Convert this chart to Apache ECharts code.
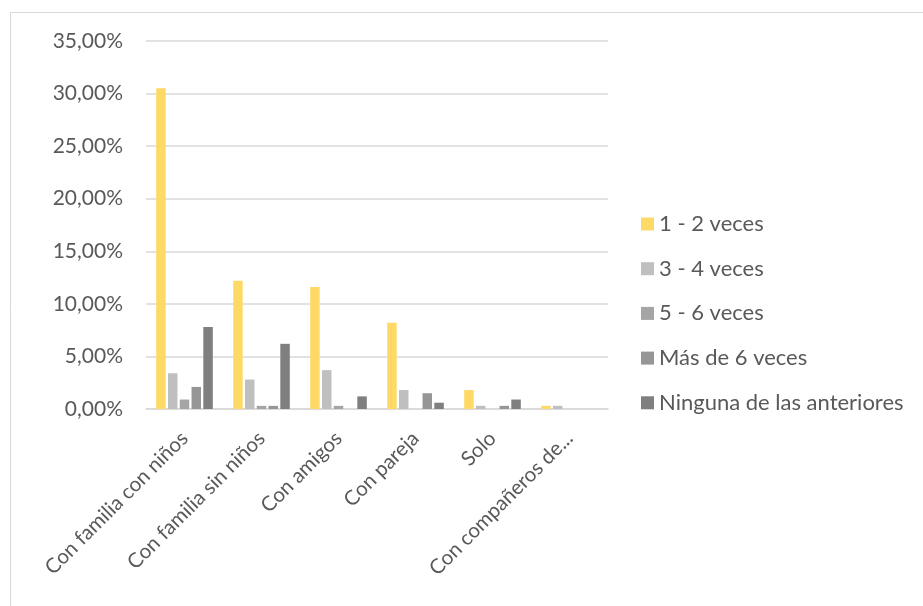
<!DOCTYPE html>
<html>
<head>
<meta charset="utf-8">
<script src="https://cdn.jsdelivr.net/npm/echarts@6/dist/echarts.min.js"></script>
<style>
  html, body { margin: 0; padding: 0; background: #fff; }
  #chart { width: 923px; height: 606px; }
</style>
</head>
<body>
<div id="chart"></div>
<script>
// Categories (company) and the share of respondents per frequency, in percent
const categories = ['Con familia con niños', 'Con familia sin niños', 'Con amigos', 'Con pareja', 'Solo', 'Con compañeros de...'];
const seriesNames = ['1 - 2 veces', '3 - 4 veces', '5 - 6 veces', 'Más de 6 veces', 'Ninguna de las anteriores'];
const veces1a2   = [30.5, 12.2, 11.6, 8.2, 1.8, 0.3];
const veces3a4   = [3.4, 2.8, 3.7, 1.8, 0.3, 0.3];
const veces5a6   = [0.9, 0.3, 0.3, 0, 0, 0];
const masDe6     = [2.1, 0.3, 0, 1.5, 0.3, 0];
const ninguna    = [7.8, 6.2, 1.2, 0.6, 0.9, 0];
const yTicks = [0, 5, 10, 15, 20, 25, 30, 35];

const seriesData = [veces1a2, veces3a4, veces5a6, masDe6, ninguna];
const colors = ['#FFD966', '#BFBFBF', '#A5A5A5', '#969696', '#7F7F7F'];
const font = 'Lato, "Open Sans", sans-serif';
const textColor = '#595959';

const chart = echarts.init(document.getElementById('chart'), null, { renderer: 'canvas' });

chart.setOption({
  animation: false,
  color: colors,
  textStyle: { fontFamily: font },
  graphic: [{
    type: 'rect',
    shape: { x: 10.5, y: 12.5, width: 1000, height: 1000 },
    style: { fill: 'none', stroke: '#D9D9D9', lineWidth: 1 },
    silent: true
  }],
  grid: { left: 146, right: 315, top: 41, bottom: 197, containLabel: false },
  legend: {
    orient: 'vertical',
    left: 641,
    top: 213,
    padding: 0,
    itemWidth: 13,
    itemHeight: 13,
    itemGap: 22.7,
    icon: 'rect',
    textStyle: { color: textColor, fontSize: 22, lineHeight: 22, fontFamily: font },
    data: seriesNames
  },
  xAxis: {
    type: 'category',
    data: categories,
    axisLine: { lineStyle: { color: '#D9D9D9', width: 1.5 } },
    axisTick: { show: false },
    axisLabel: { rotate: 45, margin: 26, color: textColor, fontSize: 20.5, fontFamily: font, interval: 0 }
  },
  yAxis: {
    type: 'value',
    min: yTicks[0],
    max: yTicks[yTicks.length - 1],
    interval: 5,
    axisLine: { show: false },
    axisTick: { show: false },
    splitLine: { lineStyle: { color: '#D9D9D9', width: 1.5 } },
    axisLabel: {
      margin: 23,
      color: textColor,
      fontSize: 21,
      fontFamily: font,
      formatter: v => v.toFixed(2).replace('.', ',') + '%'
    }
  },
  series: seriesNames.map((name, i) => ({
    name,
    type: 'bar',
    data: seriesData[i],
    barWidth: 9.5,
    barGap: '24%'
  }))
});
</script>
</body>
</html>
